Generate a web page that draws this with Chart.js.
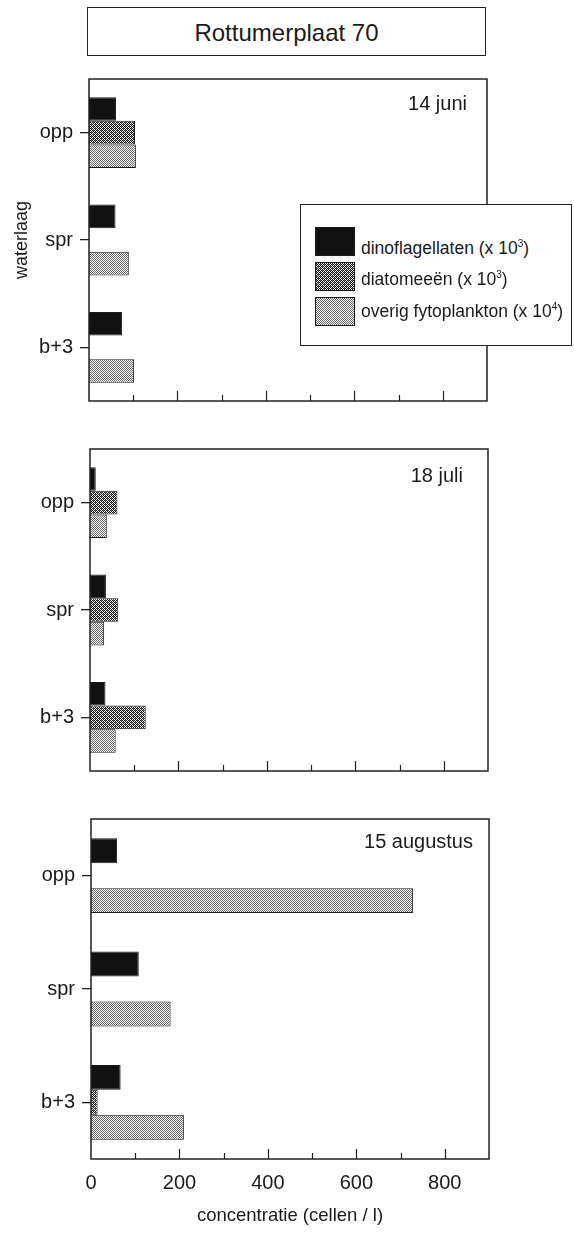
<!DOCTYPE html>
<html>
<head>
<meta charset="utf-8">
<script src="https://cdn.jsdelivr.net/npm/chart.js@4.4.1/dist/chart.umd.min.js"></script>
<style>
html,body{margin:0;padding:0;background:#fff;}
body{width:574px;height:1233px;position:relative;overflow:hidden;
  font-family:"Liberation Sans",Arial,sans-serif;color:#1a1a1a;}
.abs{position:absolute;white-space:nowrap;}
canvas.chart{position:absolute;left:0;}
#title{left:87px;top:7px;width:397px;height:47px;border:1.5px solid #222;text-align:center;line-height:49px;font-size:24px;}
#legend{left:300px;top:204px;width:270px;height:140px;border:1.5px solid #222;background:#fff;z-index:5;}
.sw{position:absolute;left:14px;width:40px;height:29px;}
.lt{position:absolute;left:60px;font-size:17.5px;line-height:24px;}
.lt sup{font-size:10px;line-height:0;vertical-align:0;position:relative;top:-7px;}
.date{font-size:20px;line-height:24px;text-align:right;z-index:4;}
</style>
</head>
<body>
<div id="title" class="abs">Rottumerplaat 70</div>

<canvas id="c1" class="chart" width="574" height="360" style="top:60px"></canvas>
<canvas id="c2" class="chart" width="574" height="360" style="top:430px"></canvas>
<canvas id="c3" class="chart" width="574" height="433" style="top:800px"></canvas>

<div class="abs date" style="right:107px;top:91px;">14 juni</div>
<div class="abs date" style="right:111px;top:463px;">18 juli</div>
<div class="abs date" style="right:101px;top:829px;">15 augustus</div>

<div id="legend" class="abs">
  <canvas class="sw" id="sw0" width="40" height="29" style="top:22px"></canvas>
  <div class="lt" style="top:31px">dinoflagellaten (x 10<sup>3</sup>)</div>
  <canvas class="sw" id="sw1" width="40" height="29" style="top:57px"></canvas>
  <div class="lt" style="top:62px">diatomeeën (x 10<sup>3</sup>)</div>
  <canvas class="sw" id="sw2" width="40" height="29" style="top:92px"></canvas>
  <div class="lt" style="top:94px">overig fytoplankton (x 10<sup>4</sup>)</div>
</div>

<script>
// ---------- data ----------
const categories = ['opp', 'spr', 'b+3'];
const seriesNames = ['dinoflagellaten (x 10³)', 'diatomeeën (x 10³)', 'overig fytoplankton (x 10⁴)'];
const panelDates = ['14 juni', '18 juli', '15 augustus'];

const juniDino    = [61, 60, 75];
const juniDiatom  = [104, 0, 0];
const juniOverig  = [106, 90, 102];

const juliDino    = [13, 36, 35];
const juliDiatom  = [62, 64, 126];
const juliOverig  = [38, 32, 58];

const augDino     = [59, 108, 67];
const augDiatom   = [0, 0, 15];
const augOverig   = [728, 180, 210];

const xTickLabels = [0, 200, 400, 600, 800];
const xMinorTicks = [100, 300, 500, 700];
const xMin = 0, xMax = 900;

// ---------- styles ----------
const FONT = '"Liberation Sans", Arial, sans-serif';
const INK = '#1a1a1a';

function makePattern(kind) {
  const c = document.createElement('canvas');
  c.width = 4; c.height = 4;
  const g = c.getContext('2d');
  g.fillStyle = '#fff'; g.fillRect(0, 0, 4, 4);
  for (let y = 0; y < 4; y++) for (let x = 0; x < 4; x++) {
    if (kind === 'diatom') {
      if ((x + y) % 2 === 0) { g.fillStyle = '#111'; g.fillRect(x, y, 1, 1); }
      else if ((x === 1 && y === 2) || (x === 3 && y === 0)) { g.fillStyle = '#777'; g.fillRect(x, y, 1, 1); }
    } else {
      if ((x + y) % 2 === 0) { g.fillStyle = '#666'; g.fillRect(x, y, 1, 1); }
    }
  }
  return g.createPattern(c, 'repeat');
}
const fills = ['#111', makePattern('diatom'), makePattern('overig')];

// legend swatches
['sw0', 'sw1', 'sw2'].forEach((id, i) => {
  const cv = document.getElementById(id);
  const g = cv.getContext('2d');
  g.fillStyle = fills[i];
  g.fillRect(0, 0, cv.width, cv.height);
  g.strokeStyle = INK; g.lineWidth = 1;
  g.strokeRect(0.5, 0.5, cv.width - 1, cv.height - 1);
});

// frame + inward x ticks
const framePlugin = {
  id: 'frame',
  afterDraw(chart) {
    const { ctx, chartArea: a } = chart;
    const xs = chart.scales.x;
    ctx.save();
    ctx.strokeStyle = '#222';
    ctx.lineWidth = 1.5;
    ctx.strokeRect(a.left, a.top, a.right - a.left, a.bottom - a.top);
    ctx.lineWidth = 1.2;
    ctx.beginPath();
    xTickLabels.concat(xMinorTicks).forEach(v => {
      if (v === 0) return;
      const px = Math.round(xs.getPixelForValue(v)) + 0.5;
      const len = xTickLabels.includes(v) ? 10 : 6;
      ctx.moveTo(px, a.bottom);
      ctx.lineTo(px, a.bottom - len);
    });
    ctx.stroke();
    ctx.restore();
  }
};

function makeChart(id, dino, diatom, overig, opts) {
  const data = [dino, diatom, overig];
  return new Chart(document.getElementById(id), {
    type: 'bar',
    data: {
      labels: categories,
      datasets: data.map((d, i) => ({
        label: seriesNames[i],
        data: d,
        backgroundColor: fills[i],
        borderColor: INK,
        borderWidth: 1,
        borderSkipped: 'start',
        barPercentage: 1,
        categoryPercentage: 0.66
      }))
    },
    options: {
      indexAxis: 'y',
      responsive: false,
      animation: false,
      devicePixelRatio: 1,
      layout: { padding: opts.padding },
      plugins: { legend: { display: false }, tooltip: { enabled: false } },
      scales: {
        x: {
          type: 'linear',
          min: xMin, max: xMax,
          display: opts.showX,
          afterBuildTicks: s => { s.ticks = xTickLabels.map(v => ({ value: v })); },
          afterFit: s => { if (opts.showX) s.height = opts.xHeight; },
          grid: { display: false, drawTicks: false },
          border: { display: false },
          ticks: { font: { family: FONT, size: 20 }, color: INK, padding: 12, maxRotation: 0 },
          title: {
            display: opts.showX,
            text: 'concentratie (cellen / l)',
            font: { family: FONT, size: 18.5 },
            color: INK,
            padding: { top: 0, bottom: 6 }
          }
        },
        y: {
          type: 'category',
          offset: true,
          afterFit: s => { s.width = opts.yWidth; },
          grid: { display: true, drawOnChartArea: false, drawTicks: true, tickLength: 9, offset: false, color: '#222', lineWidth: 1.3 },
          border: { display: false },
          ticks: { font: { family: FONT, size: 20 }, color: INK, padding: 7 },
          title: {
            display: opts.showYTitle,
            text: 'waterlaag',
            font: { family: FONT, size: 18 },
            color: INK,
            padding: { top: 11, bottom: 0 }
          }
        }
      }
    },
    plugins: [framePlugin]
  });
}

makeChart('c1', juniDino, juniDiatom, juniOverig,
  { padding: { top: 10, bottom: 12, right: 87, left: 0 }, showX: false, yWidth: 89, showYTitle: true });
makeChart('c2', juliDino, juliDiatom, juliOverig,
  { padding: { top: 11, bottom: 12, right: 86, left: 0 }, showX: false, yWidth: 90, showYTitle: false });
makeChart('c3', augDino, augDiatom, augOverig,
  { padding: { top: 12, bottom: 0, right: 85, left: 0 }, showX: true, xHeight: 74, yWidth: 91, showYTitle: false });
</script>
</body>
</html>
